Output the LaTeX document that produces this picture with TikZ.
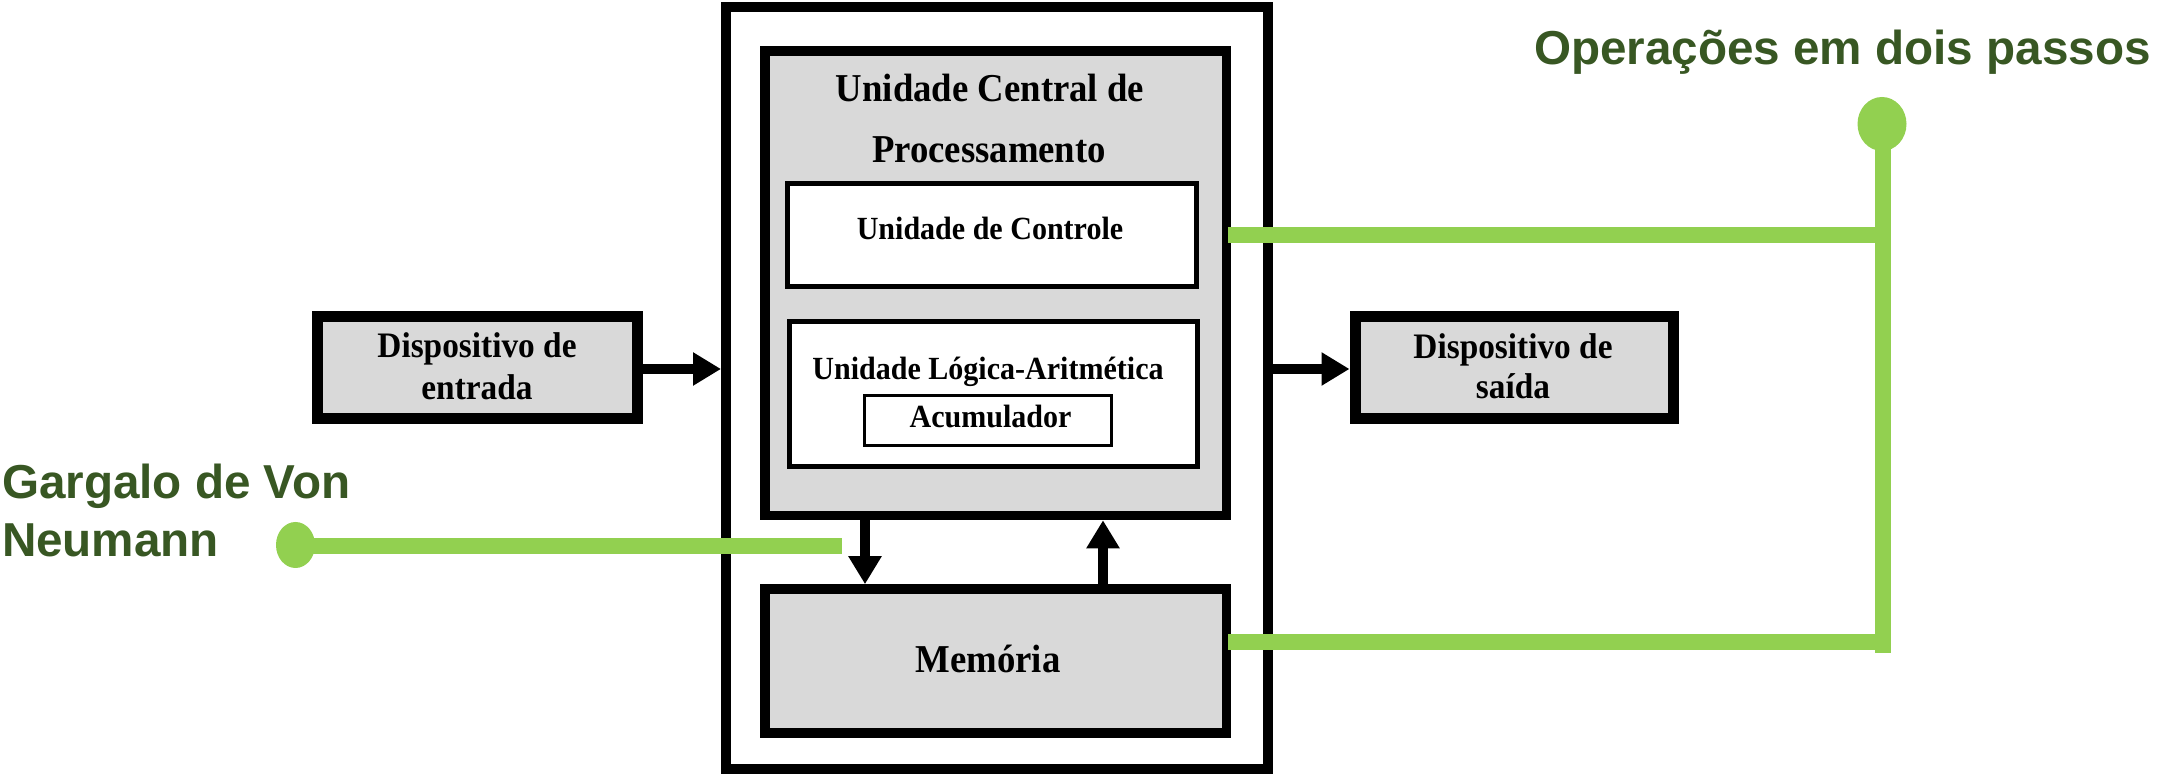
\documentclass[tikz,border=0pt]{standalone}
\usepackage{fontspec}
\setmainfont{Liberation Serif}[FakeStretch=0.93]
\newfontfamily\gfont{Liberation Sans}
\usetikzlibrary{arrows.meta,shapes.geometric}
\definecolor{boxgray}{HTML}{D9D9D9}
\definecolor{lgreen}{HTML}{92D050}
\definecolor{dgreen}{HTML}{385723}
\tikzset{
  blk/.style={draw=black,rectangle,inner sep=0pt,outer sep=0pt},
  graybox/.style={blk,fill=boxgray},
  whitebox/.style={blk,fill=white},
  tnode/.style={inner sep=0pt,outer sep=0pt,anchor=base,font=\bfseries},
  bigtxt/.style={tnode,font=\bfseries\fontsize{11.24}{13}\selectfont},
  midtxt/.style={tnode,font=\bfseries\fontsize{10.2}{12}\selectfont},
  smalltxt/.style={tnode,font=\bfseries\fontsize{9.19}{11}\selectfont},
  arr/.style={line width=1mm,-{Triangle[length=2.8mm,width=3.15mm]}},
  gline/.style={line width=1.6mm,lgreen,line cap=butt},
  gdot/.style={ellipse,fill=lgreen,draw=none,inner sep=0pt,outer sep=0pt},
  glabel/.style={inner sep=0pt,outer sep=0pt,anchor=base west,text=dgreen,font=\gfont\bfseries\fontsize{13.55}{16.2}\selectfont},
}
\begin{document}
\begin{tikzpicture}[x=0.1mm,y=-0.1mm]
\useasboundingbox (0,0) rectangle (2157,774);
% outer frame
\node[whitebox,line width=1mm,minimum width=54.2mm,minimum height=76.2mm] (outer) at (997,388) {};
% CPU
\node[graybox,line width=0.95mm,minimum width=46.15mm,minimum height=46.45mm] (cpu) at (995.75,283.25) {};
\node[whitebox,line width=0.5mm,minimum width=40.9mm,minimum height=10.3mm] (uc) at (992,235) {};
\node[whitebox,line width=0.5mm,minimum width=40.85mm,minimum height=14.5mm] (ula) at (993.25,394) {};
\node[whitebox,line width=0.3mm,minimum width=24.7mm,minimum height=5.0mm] (acc) at (988,420.5) {};
% memory
\node[graybox,line width=0.95mm,minimum width=46.15mm,minimum height=14.4mm] (mem) at (995.75,661) {};
% devices
\node[graybox,line width=1.1mm,minimum width=31.95mm,minimum height=10.2mm] (in) at (477.25,367.5) {};
\node[graybox,line width=1.1mm,minimum width=31.8mm,minimum height=10.2mm] (out) at (1514,367.5) {};
% texts
\node[bigtxt] (cpuT1) at (990,102) {Unidade Central de};
\node[bigtxt] (cpuT2) at (989,163) {Processamento};
\node[smalltxt] (ucT) at (990,240) {Unidade de Controle};
\node[smalltxt] (ulaT) at (988,380) {Unidade Lógica-Aritmética};
\node[smalltxt] (accT) at (990.5,428) {Acumulador};
\node[bigtxt] (memT) at (988,673) {Memória};
\node[midtxt] (inT1) at (477,358) {Dispositivo de};
\node[midtxt] (inT2) at (477,400) {entrada};
\node[midtxt] (outT1) at (1513,359) {Dispositivo de};
\node[midtxt] (outT2) at (1513,399) {saída};
% black arrows
\draw[arr,shorten >=0.5mm] (in.east |- 0,369) -- (outer.west |- 0,369);
\draw[arr,shorten >=0.55mm] (outer.east |- 0,369) -- (out.west |- 0,369);
\draw[arr,shorten >=0.48mm] ([xshift=-13.075mm]cpu.south) -- ([xshift=-13.075mm]mem.north);
\draw[arr,shorten >=0.48mm] ([xshift=10.725mm]mem.north) -- ([xshift=10.725mm]cpu.south);
% green annotations
\node[glabel] (gT1) at (2,499) {Gargalo de Von};
\node[glabel] (gT2) at (2,557) {Neumann};
\node[glabel] (opT) at (1534,65) {Operações em dois passos};
\coordinate (gL) at (842,546);
\node[gdot,minimum width=3.9mm,minimum height=4.6mm] (dotL) at (295.5,545) {};
\draw[gline] (dotL.center |- gL) -- (gL);
\node[gdot,minimum width=4.9mm,minimum height=5.4mm] (dotR) at (1882,124) {};
\coordinate (vEnd) at (1883,653);
\coordinate (h1) at (1228,235);
\coordinate (h2) at (1228,642.5);
\draw[gline] (h1) -- (h1 -| vEnd);
\draw[gline] (h2) -- (h2 -| vEnd);
\draw[gline] (vEnd |- dotR) -- (vEnd);
\end{tikzpicture}
\end{document}
